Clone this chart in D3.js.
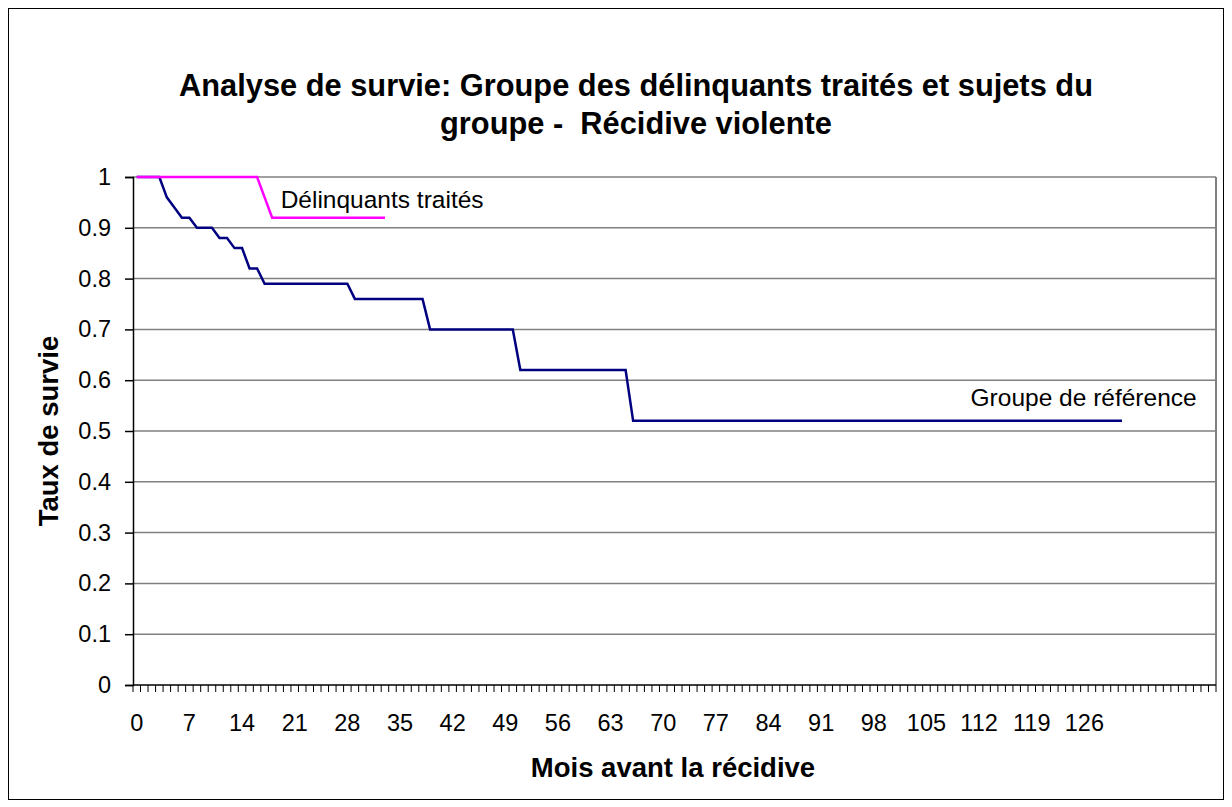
<!DOCTYPE html>
<html lang="fr">
<head>
  <meta charset="UTF-8">
  <title>Analyse de survie</title>
  <script src="https://cdn.jsdelivr.net/npm/d3@7"></script>
  <style>
    body { margin: 0; background: #fff; }
    text { font-family: Arial, "Liberation Sans", sans-serif; }
  </style>
</head>
<body>
  <svg id="chart" width="1232" height="807"></svg>
  <script>
    // mois 0..143 (categories de l'axe)
    let months = d3.range(144);
    let tickLabels = [0, 7, 14, 21, 28, 35, 42, 49, 56, 63, 70, 77, 84, 91, 98, 105, 112, 119, 126];
    let yTicks = [0, 0.1, 0.2, 0.3, 0.4, 0.5, 0.6, 0.7, 0.8, 0.9, 1];

    // Groupe de référence, mois 0..131
    let refValues = [
      1, 1, 1, 1, 0.96, 0.94, 0.92, 0.92, 0.90, 0.90, 0.90, 0.88, 0.88, 0.86, 0.86, 0.82, 0.82,
      0.79, 0.79, 0.79, 0.79, 0.79, 0.79, 0.79, 0.79, 0.79, 0.79, 0.79, 0.79,
      0.76, 0.76, 0.76, 0.76, 0.76, 0.76, 0.76, 0.76, 0.76, 0.76,
      0.70, 0.70, 0.70, 0.70, 0.70, 0.70, 0.70, 0.70, 0.70, 0.70, 0.70, 0.70,
      0.62, 0.62, 0.62, 0.62, 0.62, 0.62, 0.62, 0.62, 0.62, 0.62, 0.62, 0.62, 0.62, 0.62, 0.62,
      0.52, 0.52, 0.52, 0.52, 0.52, 0.52, 0.52, 0.52, 0.52, 0.52, 0.52, 0.52, 0.52, 0.52, 0.52, 0.52,
      0.52, 0.52, 0.52, 0.52, 0.52, 0.52, 0.52, 0.52, 0.52, 0.52, 0.52, 0.52, 0.52, 0.52, 0.52, 0.52,
      0.52, 0.52, 0.52, 0.52, 0.52, 0.52, 0.52, 0.52, 0.52, 0.52, 0.52, 0.52, 0.52, 0.52, 0.52, 0.52,
      0.52, 0.52, 0.52, 0.52, 0.52, 0.52, 0.52, 0.52, 0.52, 0.52, 0.52, 0.52, 0.52, 0.52, 0.52, 0.52,
      0.52, 0.52
    ];
    // Délinquants traités, mois 0..33
    let treatedValues = [
      1, 1, 1, 1, 1, 1, 1, 1, 1, 1, 1, 1, 1, 1, 1, 1, 1, 0.96,
      0.92, 0.92, 0.92, 0.92, 0.92, 0.92, 0.92, 0.92, 0.92, 0.92, 0.92, 0.92, 0.92, 0.92, 0.92, 0.92
    ];

    let svg = d3.select('#chart');
    let plotLeft = 133, plotRight = 1216, plotTop = 177, plotBottom = 685;

    let x = d3.scaleBand().domain(months).range([plotLeft, plotRight]).padding(0);
    let y = d3.scaleLinear().domain([0, 1]).range([plotBottom, plotTop]);
    let cx = d => x(d) + x.bandwidth() / 2;

    // cadre du graphique
    svg.append('rect')
      .attr('x', 8.5).attr('y', 8.5)
      .attr('width', 1215).attr('height', 791)
      .attr('fill', 'none').attr('stroke', '#000').attr('stroke-width', 1);

    // grille
    svg.append('g')
      .selectAll('line')
      .data(yTicks.filter(d => d > 0))
      .join('line')
      .attr('x1', plotLeft).attr('x2', plotRight)
      .attr('y1', d => y(d)).attr('y2', d => y(d))
      .attr('stroke', '#808080').attr('stroke-width', 1.5);
    svg.append('line')
      .attr('x1', plotRight).attr('x2', plotRight)
      .attr('y1', plotTop).attr('y2', plotBottom)
      .attr('stroke', '#808080').attr('stroke-width', 2);

    // axe Y
    let yAxis = svg.append('g')
      .attr('transform', `translate(${plotLeft},0)`)
      .call(d3.axisLeft(y).tickValues(yTicks).tickSize(8).tickPadding(14).tickFormat(d3.format('')));
    yAxis.select('.domain').attr('stroke', '#000').attr('stroke-width', 1.5);
    yAxis.selectAll('.tick line').attr('stroke', '#000').attr('stroke-width', 1.5);
    yAxis.selectAll('text').attr('font-size', 23.5).attr('fill', '#000')
      .style('font-family', 'Arial, "Liberation Sans", sans-serif');

    // axe X : petites graduations entre les catégories
    svg.append('g')
      .selectAll('line')
      .data(d3.range(145))
      .join('line')
      .attr('x1', d => plotLeft + d * x.bandwidth()).attr('x2', d => plotLeft + d * x.bandwidth())
      .attr('y1', plotBottom).attr('y2', plotBottom + 7)
      .attr('stroke', '#000').attr('stroke-width', 1);
    svg.append('line')
      .attr('x1', plotLeft).attr('x2', plotRight)
      .attr('y1', plotBottom).attr('y2', plotBottom)
      .attr('stroke', '#000').attr('stroke-width', 1.5);
    svg.append('g')
      .selectAll('text')
      .data(tickLabels)
      .join('text')
      .attr('x', d => cx(d))
      .attr('y', 731)
      .attr('text-anchor', 'middle')
      .attr('font-size', 23.5)
      .text(d => d);

    // courbes
    let line = d3.line().x((d, i) => cx(months[i])).y(d => y(d));
    svg.append('path')
      .datum(refValues)
      .attr('d', line)
      .attr('fill', 'none').attr('stroke', '#000080').attr('stroke-width', 2.5);
    svg.append('path')
      .datum(treatedValues)
      .attr('d', line)
      .attr('fill', 'none').attr('stroke', '#ff00ff').attr('stroke-width', 2.5);

    // étiquettes des séries
    svg.append('text')
      .attr('x', cx(19) + 1).attr('y', y(treatedValues[17]) + 11)
      .attr('font-size', 24.5).text('Délinquants traités');
    svg.append('text')
      .attr('x', cx(111) - 1).attr('y', y(refValues[131]) - 15)
      .attr('font-size', 24.5).text('Groupe de référence');

    // titres
    let title = svg.append('text')
      .attr('text-anchor', 'middle')
      .attr('font-size', 30.8).attr('font-weight', 'bold');
    title.append('tspan').attr('x', 636).attr('y', 96)
      .text('Analyse de survie: Groupe des délinquants traités et sujets du');
    title.append('tspan').attr('x', 636).attr('y', 134)
      .text('groupe -  Récidive violente')
      .style('white-space', 'pre');

    svg.append('text')
      .attr('x', 673).attr('y', 777)
      .attr('text-anchor', 'middle')
      .attr('font-size', 27.5).attr('font-weight', 'bold')
      .text('Mois avant la récidive');
    svg.append('text')
      .attr('transform', 'translate(58,431) rotate(-90)')
      .attr('text-anchor', 'middle')
      .attr('font-size', 27.5).attr('font-weight', 'bold')
      .text('Taux de survie');
  </script>
</body>
</html>
